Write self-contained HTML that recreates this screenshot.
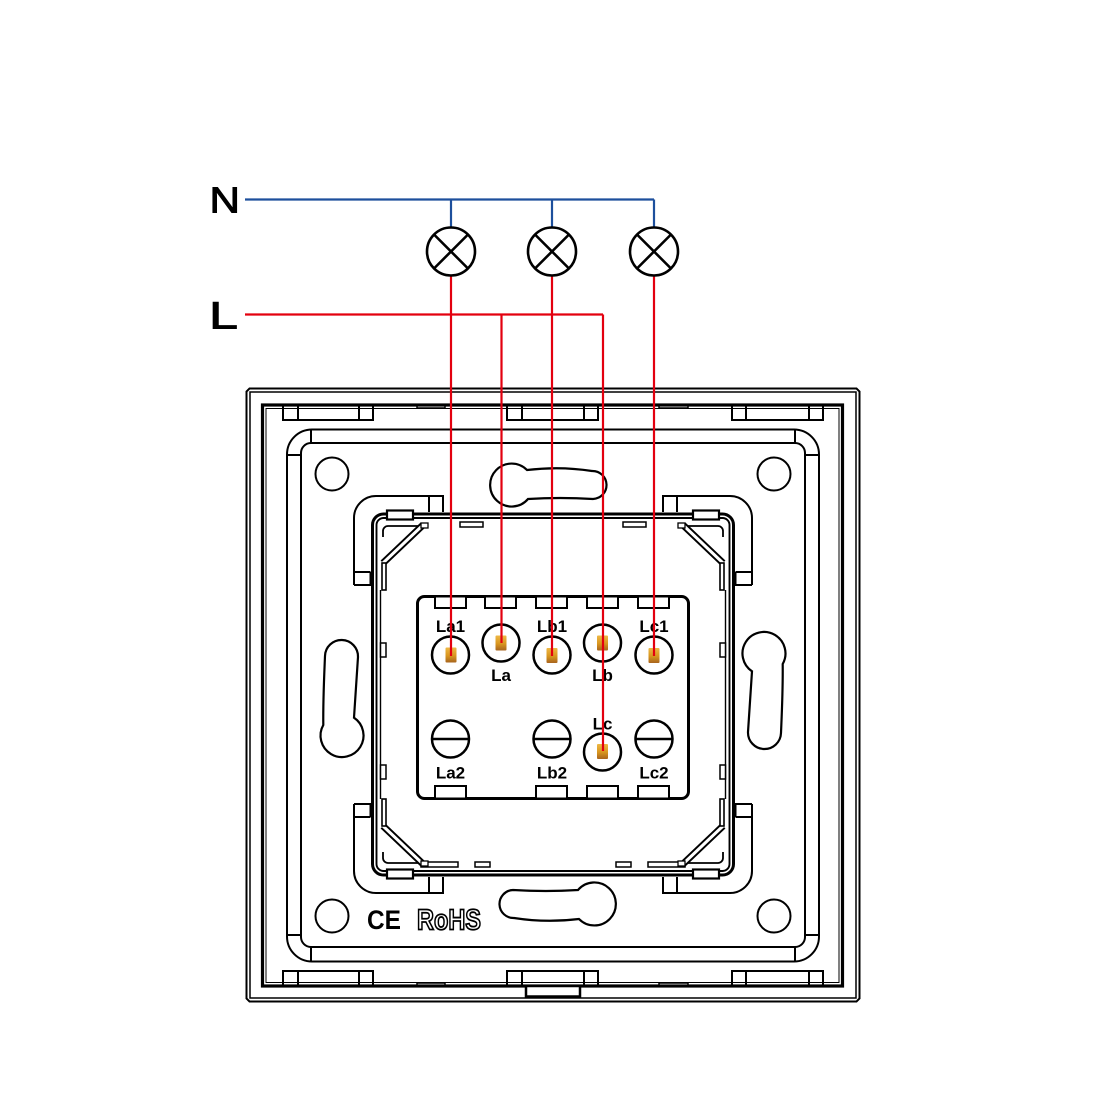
<!DOCTYPE html>
<html>
<head>
<meta charset="utf-8">
<style>
html,body{margin:0;padding:0;background:#fff;}
svg{display:block;}
</style>
</head>
<body>
<svg width="1100" height="1100" viewBox="0 0 1100 1100" xmlns="http://www.w3.org/2000/svg">
<defs>
  <linearGradient id="cg" x1="0" y1="0" x2="0" y2="1">
    <stop offset="0" stop-color="#eeb845"/>
    <stop offset="0.55" stop-color="#d8961f"/>
    <stop offset="1" stop-color="#a8641e"/>
  </linearGradient>
  <g id="corner" fill="none" stroke="#000" stroke-width="2">
    <path d="M354,585 V518 A22,22 0 0 1 376,496 H443 V512"/>
    <path d="M429,496 V512"/>
    <path d="M354,572 H370.5 M354,585 H370.5 V572"/>
    <path d="M383,537 V531 A5,5 0 0 1 388,526 H421" stroke-width="1.8"/>
    <rect x="387" y="510.5" width="26" height="9" fill="#fff" stroke-width="2.2"/>
    <path d="M423,525 L383,563" stroke-width="7"/>
    <path d="M423,525 L383,563" stroke="#fff" stroke-width="3"/>
    <rect x="382" y="563" width="4" height="27" fill="#fff" stroke-width="1.6"/>
    <rect x="421" y="523" width="7" height="5" fill="#fff" stroke-width="1.3"/>
  </g>
  <path id="obround" d="M527,470 Q560,466 592,471 A14,14 0 0 1 593,499 Q560,497 528,499 A21.5,21.5 0 1 1 527,470 Z" fill="none" stroke="#000" stroke-width="2.2"/>
  <path id="keyhole" d="M354,717.7 C356,690 357,670 358,657 A16.5,16.5 0 0 0 325,656 C324,680 323,700 323.3,725 A21.5,21.5 0 1 0 354,717.7 Z" fill="none" stroke="#000" stroke-width="2.2"/>
</defs>

<rect width="1100" height="1100" fill="#fff"/>

<!-- ===== Frame ===== -->
<g fill="#fff" stroke="#000" stroke-width="2">
  <rect x="283" y="405" width="90" height="15"/>
  <rect x="507" y="405" width="91" height="15"/>
  <rect x="732" y="405" width="91" height="15"/>
  <rect x="283" y="971" width="90" height="15"/>
  <rect x="507" y="971" width="91" height="15"/>
  <rect x="732" y="971" width="91" height="15"/>
  <rect x="417" y="405" width="28" height="3" stroke-width="1.5"/>
  <rect x="659" y="405" width="29" height="3" stroke-width="1.5"/>
  <rect x="417" y="983" width="28" height="3" stroke-width="1.5"/>
  <rect x="659" y="983" width="29" height="3" stroke-width="1.5"/>
</g>
<g fill="none" stroke="#000" stroke-width="2">
  <path d="M298,405 V420 M359,405 V420 M522,405 V420 M584,405 V420 M746,405 V420 M809,405 V420"/>
  <path d="M298,971 V986 M359,971 V986 M522,971 V986 M584,971 V986 M746,971 V986 M809,971 V986"/>
  <path d="M249.5,388.5 H856.5 L859.5,391.5 V998.5 L856.5,1001.5 H249.5 L246.5,998.5 V391.5 Z"/>
  <rect x="250" y="392" width="606" height="606" stroke-width="1.5"/>
  <rect x="262.5" y="405" width="580" height="581" stroke-width="3.2"/>
  <rect x="266" y="408.5" width="573" height="574" stroke-width="1"/>
</g>
<rect x="526" y="986" width="54" height="10.5" fill="#fff" stroke="#000" stroke-width="2.5"/>

<!-- ===== Plate ===== -->
<g fill="none" stroke="#000" stroke-width="2">
  <rect x="287" y="429.5" width="532" height="532" rx="25"/>
  <rect x="301" y="443" width="504" height="504" rx="10"/>
  <path d="M311,429.5 V443 M795,429.5 V443 M311,947 V961.5 M795,947 V961.5"/>
  <path d="M287,455 H301 M805,455 H819 M287,935 H301 M805,935 H819"/>
  <circle cx="332" cy="474" r="16.5"/>
  <circle cx="774" cy="474" r="16.5"/>
  <circle cx="332" cy="916" r="16.5"/>
  <circle cx="774" cy="916" r="16.5"/>
</g>
<use href="#obround"/>
<use href="#obround" transform="rotate(180 553 694.5)"/>
<use href="#keyhole"/>
<use href="#keyhole" transform="rotate(180 553 694.5)"/>

<!-- ===== Module ===== -->
<g fill="none" stroke="#000">
  <rect x="372.5" y="514" width="361" height="361" rx="11" stroke-width="3"/>
  <rect x="376.5" y="518" width="353" height="353" rx="7" stroke-width="1.9"/>
  <path d="M380.5,590 V799 M725.5,590 V799" stroke-width="1.4"/>
</g>
<g fill="#fff" stroke="#000" stroke-width="1.5">
  <rect x="380.5" y="643" width="5.5" height="14"/>
  <rect x="380.5" y="765" width="5.5" height="14"/>
  <rect x="720" y="643" width="5.5" height="14"/>
  <rect x="720" y="765" width="5.5" height="14"/>
  <rect x="460" y="522" width="23" height="5"/>
  <rect x="623" y="522" width="23" height="5"/>
  <rect x="421" y="862" width="37" height="5"/>
  <rect x="475" y="862" width="15" height="5"/>
  <rect x="648" y="862" width="37" height="5"/>
  <rect x="616" y="862" width="15" height="5"/>
</g>
<use href="#corner"/>
<use href="#corner" transform="matrix(-1 0 0 1 1106 0)"/>
<use href="#corner" transform="matrix(1 0 0 -1 0 1389)"/>
<use href="#corner" transform="matrix(-1 0 0 -1 1106 1389)"/>

<!-- ===== Terminal block ===== -->
<rect x="417.5" y="596.5" width="271" height="202" rx="7" fill="#fff" stroke="#000" stroke-width="3"/>
<g fill="#fff" stroke="#000" stroke-width="2">
  <rect x="435" y="596.5" width="31" height="11.5"/>
  <rect x="485" y="596.5" width="31" height="11.5"/>
  <rect x="536" y="596.5" width="31" height="11.5"/>
  <rect x="587" y="596.5" width="31" height="11.5"/>
  <rect x="638" y="596.5" width="31" height="11.5"/>
  <rect x="435" y="786" width="31" height="12.5"/>
  <rect x="536" y="786" width="31" height="12.5"/>
  <rect x="587" y="786" width="31" height="12.5"/>
  <rect x="638" y="786" width="31" height="12.5"/>
</g>
<g fill="none" stroke="#000" stroke-width="2.5">
  <circle cx="450.5" cy="655" r="18.5"/>
  <circle cx="501" cy="643" r="18.5"/>
  <circle cx="552" cy="655" r="18.5"/>
  <circle cx="602.5" cy="643" r="18.5"/>
  <circle cx="654" cy="655" r="18.5"/>
  <circle cx="450.5" cy="739" r="18.5"/>
  <circle cx="552" cy="739" r="18.5"/>
  <circle cx="602.5" cy="752" r="18.5"/>
  <circle cx="654" cy="739" r="18.5"/>
  <path d="M432,739 H469 M533.5,739 H570.5 M635.5,739 H672.5"/>
</g>
<g font-family="Liberation Sans, Arial, sans-serif" font-weight="bold" font-size="17" text-anchor="middle" fill="#000">
  <text x="450.5" y="632">La1</text>
  <text x="501" y="681">La</text>
  <text x="552" y="632">Lb1</text>
  <text x="602.5" y="681">Lb</text>
  <text x="654" y="632">Lc1</text>
  <text x="602.5" y="729.5">Lc</text>
  <text x="450.5" y="778.5">La2</text>
  <text x="552" y="778.5">Lb2</text>
  <text x="654" y="778.5">Lc2</text>
</g>

<!-- CE RoHS -->
<text x="367" y="929" font-family="Liberation Sans, Arial, sans-serif" font-weight="bold" font-size="27" textLength="34" lengthAdjust="spacingAndGlyphs" fill="#000">CE</text>
<text x="417" y="929.5" font-family="Liberation Sans, Arial, sans-serif" font-weight="bold" font-size="29" textLength="64" lengthAdjust="spacingAndGlyphs" fill="#fff" stroke="#000" stroke-width="1.8">RoHS</text>

<!-- ===== Contacts ===== -->
<g fill="url(#cg)">
  <rect x="445.5" y="647.5" width="11" height="15" rx="1"/>
  <rect x="495.5" y="635.5" width="11" height="15" rx="1"/>
  <rect x="546.5" y="648" width="11" height="15" rx="1"/>
  <rect x="597" y="635.5" width="11" height="15" rx="1"/>
  <rect x="648.5" y="648" width="11" height="15" rx="1"/>
  <rect x="597" y="744" width="11" height="15" rx="1"/>
</g>

<!-- ===== Wiring ===== -->
<g fill="none" stroke="#1d4f9c" stroke-width="2.2">
  <path d="M245,199.5 H654 M451,199.5 V227.5 M552,199.5 V227.5 M654,199.5 V227.5"/>
</g>
<g fill="none" stroke="#e3000f" stroke-width="2.2">
  <path d="M245,314.5 H603"/>
  <path d="M451,276 V656"/>
  <path d="M501.5,314.5 V643"/>
  <path d="M552,276 V656"/>
  <path d="M603,314.5 V751"/>
  <path d="M654,276 V656"/>
</g>
<g fill="#fff" stroke="#000" stroke-width="2.6">
  <circle cx="451" cy="251.5" r="24"/>
  <circle cx="552" cy="251.5" r="24"/>
  <circle cx="654" cy="251.5" r="24"/>
</g>
<g stroke="#000" stroke-width="2.6">
  <path d="M434,234.5 L468,268.5 M468,234.5 L434,268.5"/>
  <path d="M535,234.5 L569,268.5 M569,234.5 L535,268.5"/>
  <path d="M637,234.5 L671,268.5 M671,234.5 L637,268.5"/>
</g>

<!-- N / L labels -->
<text x="209.5" y="212.7" font-family="Liberation Sans, Arial, sans-serif" font-size="36" textLength="30.5" lengthAdjust="spacingAndGlyphs" fill="#000" stroke="#000" stroke-width="0.9">N</text>
<text x="209" y="328.3" font-family="Liberation Sans, Arial, sans-serif" font-size="38" textLength="29" lengthAdjust="spacingAndGlyphs" fill="#000" stroke="#000" stroke-width="0.9">L</text>
</svg>
</body>
</html>
